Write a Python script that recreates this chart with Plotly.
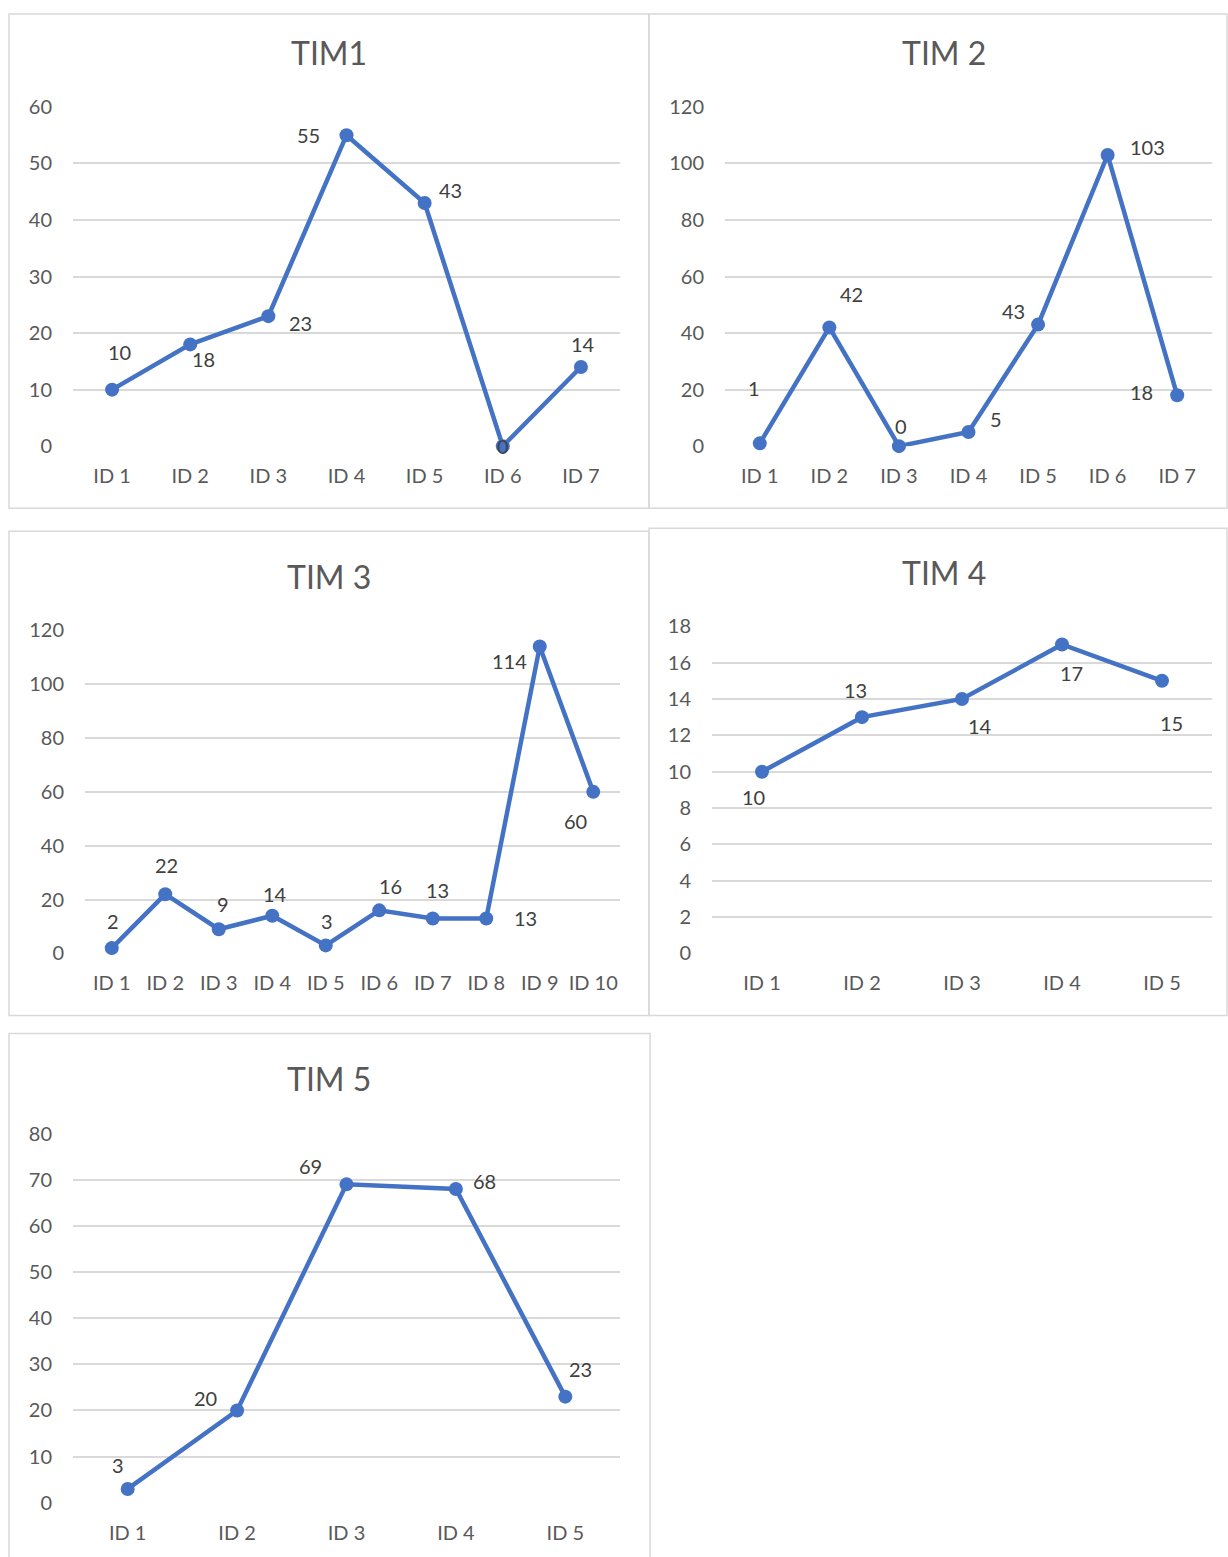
import plotly.graph_objects as go

W, H = 1228, 1557

# ---- data ----
tim1_ids = ["ID 1", "ID 2", "ID 3", "ID 4", "ID 5", "ID 6", "ID 7"]
tim1_vals = [10, 18, 23, 55, 43, 0, 14]

tim2_ids = ["ID 1", "ID 2", "ID 3", "ID 4", "ID 5", "ID 6", "ID 7"]
tim2_vals = [1, 42, 0, 5, 43, 103, 18]

tim3_ids = ["ID 1", "ID 2", "ID 3", "ID 4", "ID 5", "ID 6", "ID 7", "ID 8", "ID 9", "ID 10"]
tim3_vals = [2, 22, 9, 14, 3, 16, 13, 13, 114, 60]

tim4_ids = ["ID 1", "ID 2", "ID 3", "ID 4", "ID 5"]
tim4_vals = [10, 13, 14, 17, 15]

tim5_ids = ["ID 1", "ID 2", "ID 3", "ID 4", "ID 5"]
tim5_vals = [3, 20, 69, 68, 23]

titles = ["TIM1", "TIM 2", "TIM 3", "TIM 4", "TIM 5"]

# ---- layout / style (pixel geometry) ----
# vertical pixel mapping correction for the capture
VS, VO = 0.984, 13.1


def vy(py):
    return (py - VO) / VS


panels = [
    dict(ids=tim1_ids, vals=tim1_vals, px=(73, 620), py=(107, 446), ymax=60, dtick=10,
         tpos=(329, 53), box=(9, 9, 649, 508),
         offs=[(7, -37), (13, 14), (32, 7), (-38, 0), (26, -13), (0, 0), (2, -23)]),
    dict(ids=tim2_ids, vals=tim2_vals, px=(725, 1212), py=(107, 446), ymax=120, dtick=20,
         tpos=(944, 53), box=(649, 9, 1227, 508),
         offs=[(-6, -54), (22, -33), (2, -20), (27, -13), (-25, -13), (40, -8), (-36, -3)]),
    dict(ids=tim3_ids, vals=tim3_vals, px=(85, 620), py=(630, 953), ymax=120, dtick=20,
         tpos=(329, 576), box=(9, 531, 649, 1015),
         offs=[(1, -27), (1, -29), (4, -25), (3, -21), (1, -24), (11, -24), (5, -28),
               (39, 0), (-30, 14), (-18, 29)]),
    dict(ids=tim4_ids, vals=tim4_vals, px=(712, 1212), py=(626, 953), ymax=18, dtick=2,
         tpos=(944, 572), box=(649, 528, 1227, 1015),
         offs=[(-9, 25), (-7, -27), (18, 27), (9, 28), (9, 42)]),
    dict(ids=tim5_ids, vals=tim5_vals, px=(73, 620), py=(1133, 1502), ymax=80, dtick=10,
         tpos=(329, 1078), box=(9, 1033, 650, 1600),
         offs=[(-10, -24), (-32, -12), (-36, -18), (29, -8), (15, -27)]),
]

LINE = "#4472C4"
GRID = "#D9D9D9"
TXT = "#595959"
FONT = "Lato"

fig = go.Figure()
layout = dict(
    width=W, height=H, margin=dict(l=0, r=0, t=0, b=0),
    paper_bgcolor="white", plot_bgcolor="white", showlegend=False,
    font=dict(family=FONT, color=TXT, size=20),
)
annotations = []
shapes = []


def fy(py):
    return min(1.0, 1 - vy(py) / H)


for i, p in enumerate(panels):
    n = i + 1
    xa = "x" if n == 1 else f"x{n}"
    ya = "y" if n == 1 else f"y{n}"
    fig.add_trace(go.Scatter(
        x=list(range(len(p["ids"]))), y=p["vals"], mode="lines+markers",
        line=dict(color=LINE, width=4.5), marker=dict(color=LINE, size=14),
        xaxis=xa, yaxis=ya, hoverinfo="skip", cliponaxis=False,
    ))
    layout[f"xaxis{n}" if n > 1 else "xaxis"] = dict(
        domain=[p["px"][0] / W, p["px"][1] / W], anchor=ya,
        range=[-0.5, len(p["ids"]) - 0.5],
        tickmode="array", tickvals=list(range(len(p["ids"]))), ticktext=p["ids"],
        showgrid=False, zeroline=False, showline=False, ticks="",
        tickfont=dict(size=20, color=TXT, family=FONT), ticklabelstandoff=16,
    )
    layout[f"yaxis{n}" if n > 1 else "yaxis"] = dict(
        domain=[fy(p["py"][1]), fy(p["py"][0])], anchor=xa,
        range=[0, p["ymax"]], dtick=p["dtick"], tick0=0,
        showgrid=True, gridcolor=GRID, gridwidth=1.5, zeroline=False, showline=False,
        ticks="", tickfont=dict(size=20, color=TXT, family=FONT), ticklabelstandoff=20,
    )
    for j, v in enumerate(p["vals"]):
        dx, dy = p["offs"][j]
        annotations.append(dict(
            x=j, y=v, xref=xa, yref=ya, text=str(v), showarrow=False,
            xshift=dx, yshift=-dy / VS, font=dict(size=20, color="#404040", family=FONT),
        ))
    annotations.append(dict(
        x=p["tpos"][0] / W, y=fy(p["tpos"][1]), xref="paper", yref="paper",
        text=titles[i], showarrow=False, xanchor="center", yanchor="middle",
        font=dict(size=32, color=TXT, family=FONT),
    ))
    bx0, by0, bx1, by1 = p["box"]
    top = min(fy(by0), 1 - 1.0 / H)
    shapes.append(dict(
        type="rect", xref="paper", yref="paper",
        x0=bx0 / W, x1=bx1 / W, y0=1 - vy(by1) / H, y1=top,
        line=dict(color=GRID, width=1.5), fillcolor="rgba(0,0,0,0)", layer="below",
    ))

layout["annotations"] = annotations
layout["shapes"] = shapes
fig.update_layout(**layout)

post = (
    "document.documentElement.style.margin='0';"
    "document.documentElement.style.overflow='hidden';"
    "document.body.style.margin='0';"
    "document.body.style.overflow='hidden';"
    "var gd=document.getElementById('{plot_id}');"
    "gd.style.position='fixed';gd.style.top='0px';gd.style.left='0px';"
)
fig.write_html("out.html", config={"displayModeBar": False}, post_script=post)
